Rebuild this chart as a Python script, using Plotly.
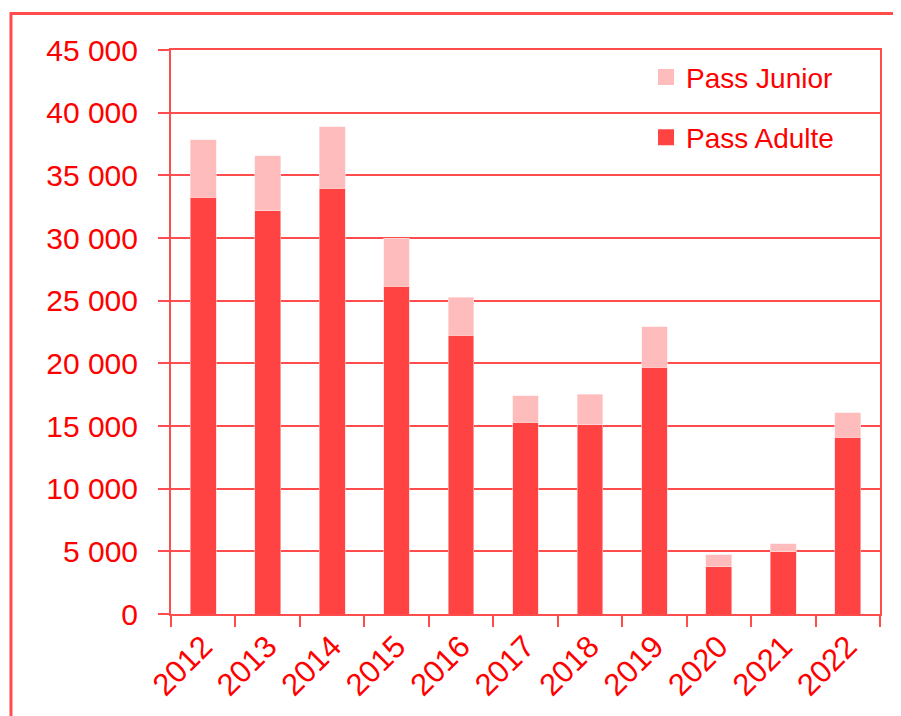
import plotly.graph_objects as go

years = ["2012", "2013", "2014", "2015", "2016", "2017", "2018", "2019", "2020", "2021", "2022"]
pass_adulte = [33250, 32180, 33970, 26170, 22260, 15290, 15110, 19680, 3780, 4950, 14100]
pass_total = [37820, 36570, 38860, 29970, 25270, 17420, 17530, 22900, 4710, 5610, 16060]
pass_junior = [t - a for t, a in zip(pass_total, pass_adulte)]
y_ticks = [0, 5000, 10000, 15000, 20000, 25000, 30000, 35000, 40000, 45000]
y_tick_labels = ["0", "5 000", "10 000", "15 000", "20 000", "25 000", "30 000", "35 000", "40 000", "45 000"]

ADULT = "#ff4343"
JUNIOR = "#ffbcbc"
LINE = "#ff4d4d"
TEXT = "#ff0000"
FONT = "Liberation Sans"

fig = go.Figure()
fig.add_trace(go.Bar(x=years, y=pass_adulte, name="Pass Adulte", marker=dict(color=ADULT, line=dict(color="#ffd0d0", width=0.6)),
                     width=0.4, showlegend=False))
fig.add_trace(go.Bar(x=years, y=pass_junior, name="Pass Junior", marker=dict(color=JUNIOR, line=dict(color="#ffe6e6", width=0.6)),
                     width=0.4, showlegend=False))
# legend proxies
fig.add_trace(go.Scatter(x=[None], y=[None], mode="markers", name="Pass Junior", legendgroup="j",
                         marker=dict(symbol="square", size=19, color=JUNIOR)))
fig.add_trace(go.Scatter(x=[None], y=[None], mode="markers", name="Pass Adulte", legendgroup="a",
                         marker=dict(symbol="square", size=19, color=ADULT)))

fig.update_layout(
    width=901, height=716,
    margin=dict(l=163, r=29, t=42, b=110),
    barmode="stack",
    paper_bgcolor="white", plot_bgcolor="white",
    font=dict(family=FONT, size=29, color=TEXT),
    legend=dict(x=0.67, xanchor="left", y=0.996, yanchor="top", traceorder="grouped",
                tracegroupgap=21, bgcolor="rgba(0,0,0,0)", font=dict(size=28, color=TEXT, family=FONT)),
    xaxis=dict(type="category", tickson="boundaries", ticks="outside", ticklen=11, tickwidth=2,
               tickcolor=LINE, showline=True, linecolor=LINE, linewidth=2, mirror=True,
               tickangle=-45, tickfont=dict(size=31, color=TEXT, family=FONT), showgrid=False),
    yaxis=dict(range=[0, 45000], tickvals=y_ticks, ticktext=y_tick_labels, ticks="outside", ticklen=11,
               tickwidth=2, tickcolor=LINE, showline=True, linecolor=LINE, linewidth=2, mirror=True,
               showgrid=True, gridcolor=LINE, gridwidth=2, zeroline=False, ticklabelstandoff=14,
               tickfont=dict(size=30, color=TEXT, family=FONT)),
    shapes=[dict(type="rect", xref="paper", yref="paper", x0=-0.2257, x1=1.05, y0=-0.2, y1=1.0647,
                 line=dict(color=LINE, width=3), fillcolor="rgba(0,0,0,0)", layer="below")],
)

fig.write_html("out.html")
